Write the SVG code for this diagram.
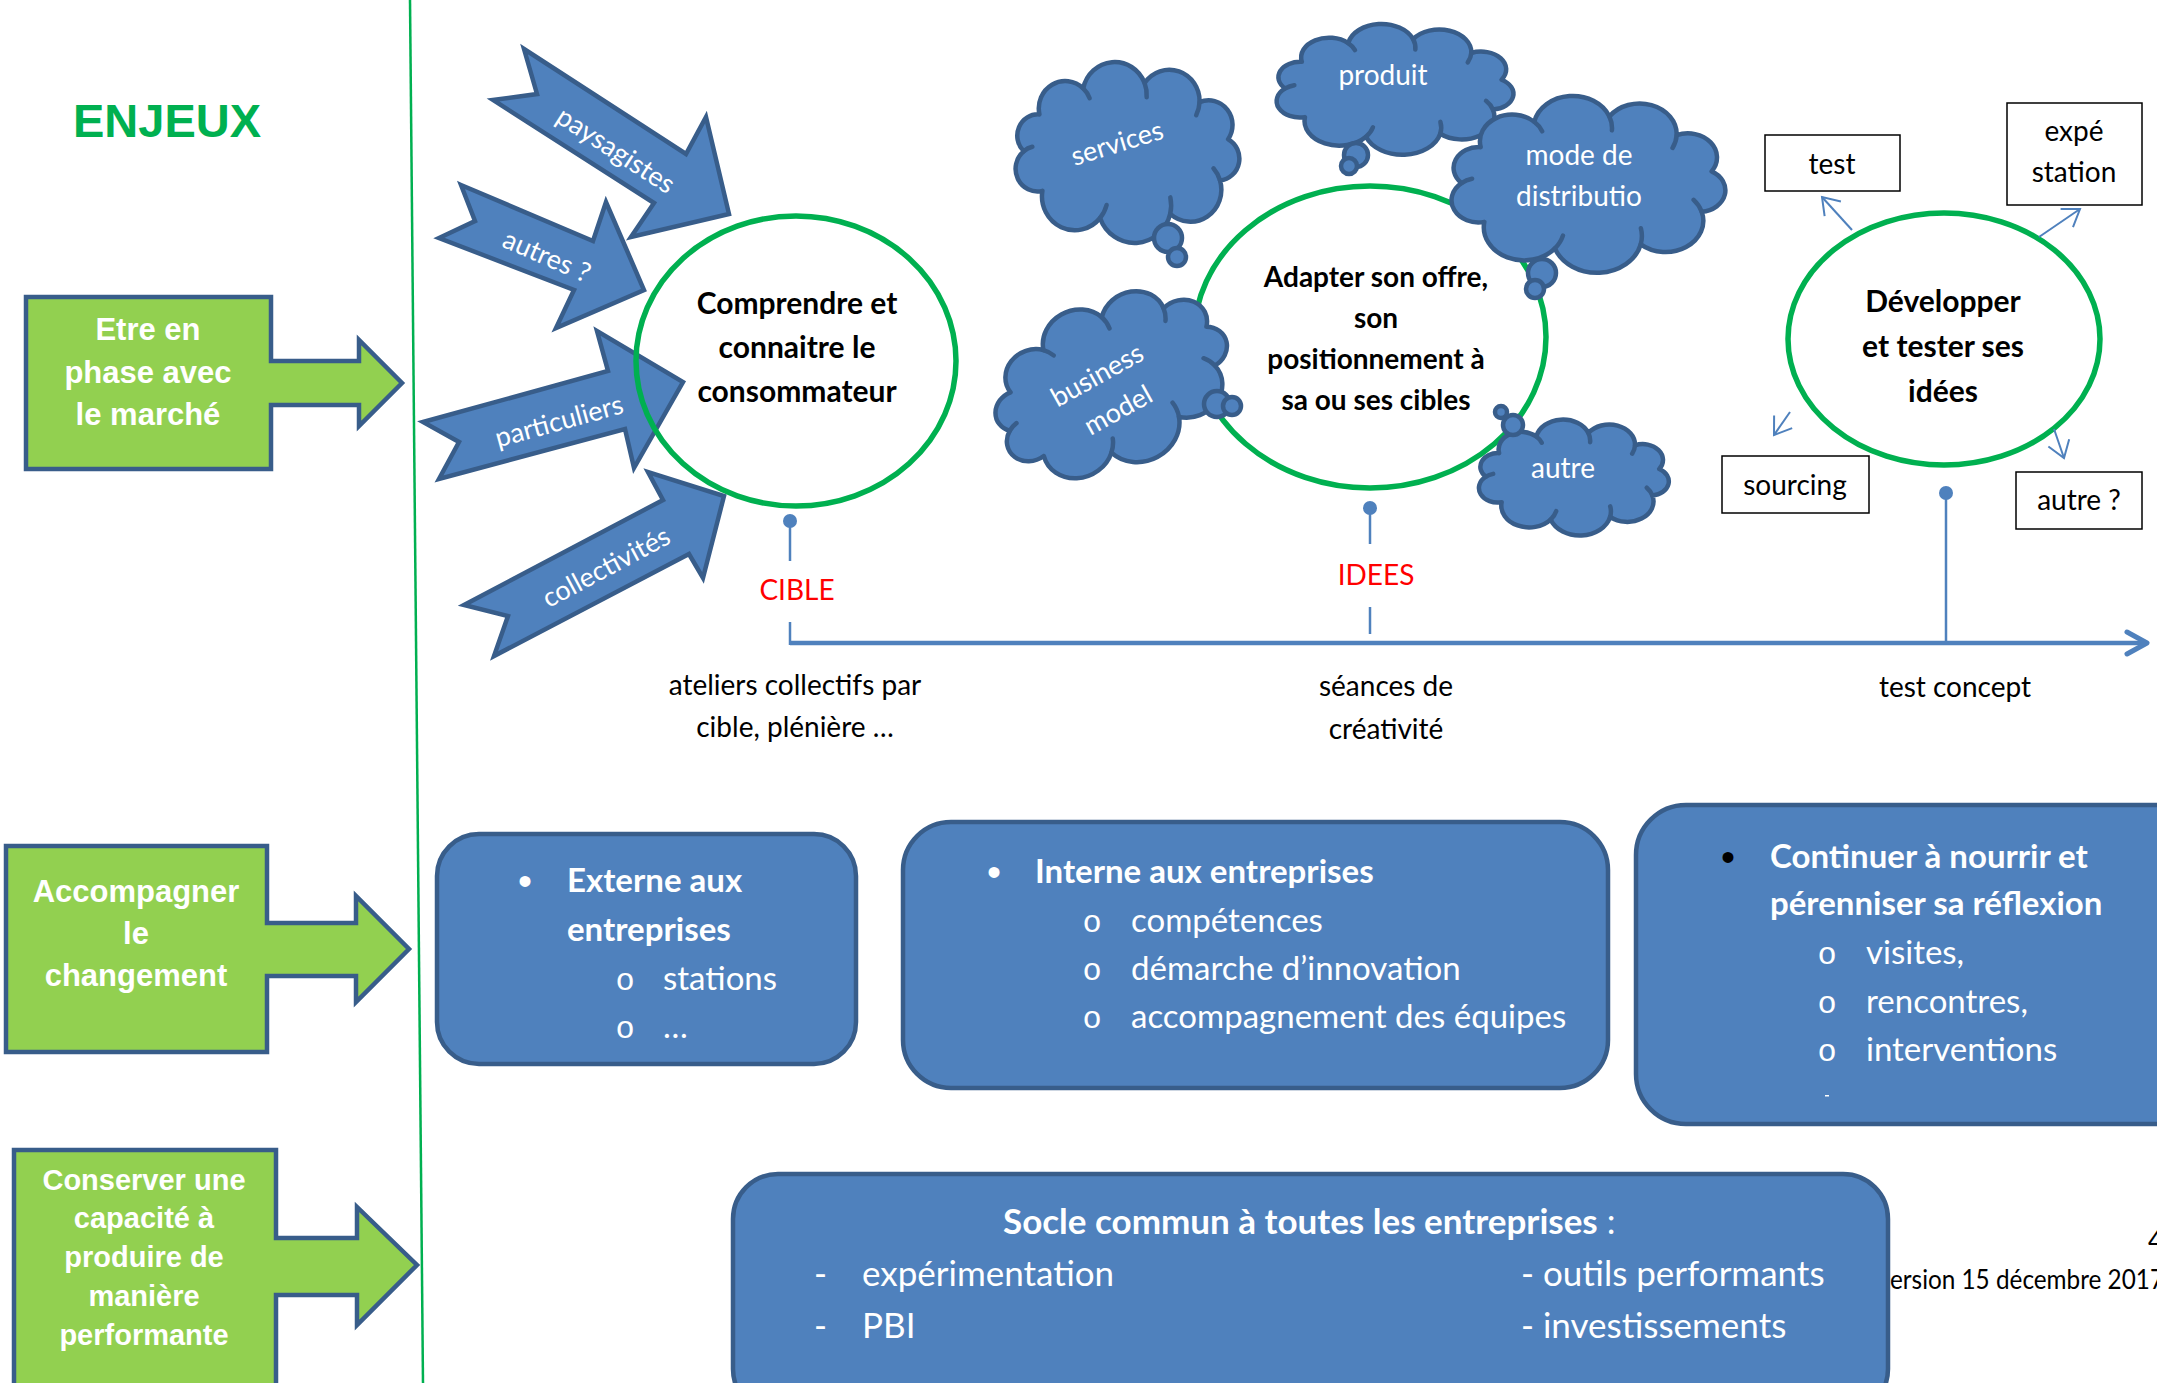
<svg xmlns="http://www.w3.org/2000/svg" xmlns:xlink="http://www.w3.org/1999/xlink" width="2157" height="1383" viewBox="0 0 2157 1383">
<style>
.lato{font-family:Lato,"Open Sans","Liberation Sans",sans-serif}
.arial{font-family:"Liberation Sans",Arial,sans-serif}
.mono{font-family:"Liberation Mono","Courier New",monospace}
.gbox{fill:#92D050;stroke:#385D8A;stroke-width:4.5;stroke-linejoin:miter}
.gtxt{font-family:"Liberation Sans",Arial,sans-serif;font-weight:bold;fill:#fff;text-anchor:middle}
.barrow{fill:#4F81BD;stroke:#385D8A;stroke-width:4.5;stroke-linejoin:miter}
.atxt{font-family:Lato,"Open Sans",sans-serif;fill:#fff;font-size:27px;text-anchor:middle}
.ring{fill:none;stroke:#00B050;stroke-width:5.5}
.ctxt{font-family:Lato,"Open Sans",sans-serif;font-weight:bold;fill:#000;text-anchor:middle}
.cloud{fill:#4F81BD;stroke:#385D8A;stroke-width:4.5;stroke-linejoin:round}
.cloudin{fill:none;stroke:#385D8A;stroke-width:4.5;stroke-linecap:round}
.wtxt{font-family:Lato,"Open Sans",sans-serif;fill:#fff}
.btxt{font-family:Lato,"Open Sans",sans-serif;fill:#000}
.rbox{fill:#4F81BD;stroke:#385D8A;stroke-width:4.5}
.sbox{fill:#fff;stroke:#000;stroke-width:1.5}
.tl{stroke:#4F81BD;fill:none}
.red{font-family:Lato,"Open Sans",sans-serif;fill:#FF0000;font-size:28px;text-anchor:middle}
</style>
<defs>
<marker id="open" markerUnits="userSpaceOnUse" markerWidth="22" markerHeight="26" viewBox="-19 -13 21 26" refX="0" refY="0" orient="auto">
<path d="M-16,-11 L0,0 L-16,11" fill="none" stroke="#4F81BD" stroke-width="2"/>
</marker>
<g id="cloudShape">
<path class="cloud" vector-effect="non-scaling-stroke" d="M20,70 A16,16 0 0 1 32.2,42.4 A20.5,20.5 0 0 1 66.2,22.9 A25,25 0 0 1 113.9,18.8 A23.5,23.5 0 0 1 156.6,33.2 A18.5,18.5 0 0 1 178.8,61 A16.5,16.5 0 0 1 172.5,92 A24,24 0 0 1 133.8,117.1 A28.5,28.5 0 0 1 79.3,120.2 A25.5,25.5 0 0 1 34.5,99.8 A17,17 0 0 1 20,70 Z"/>
<path class="cloudin" vector-effect="non-scaling-stroke" d="M66.2,22.9 A20.5,20.5 0 0 1 71.2,30.2 M113.9,18.8 A25,25 0 0 1 115.5,29.5 M156.6,33.2 A23.5,23.5 0 0 1 154,43 M167.4,82.9 A24,24 0 0 1 172.5,92 M133.9,104.7 A28.5,28.5 0 0 1 133.8,117.1 M84.4,110.4 A25.5,25.5 0 0 1 79.3,120.2 M20,70 A17,17 0 0 1 26.7,66.7"/>
</g>
</defs>

<rect width="2157" height="1383" fill="#fff"/>

<!-- separator -->
<line x1="410" y1="0" x2="423" y2="1383" stroke="#00B050" stroke-width="2.5"/>

<g id="enjeux">
<text x="73" y="137" class="arial" font-weight="bold" font-size="47" fill="#00B050">ENJEUX</text>
</g>

<g id="enjeu1">
<polygon class="gbox" points="26,297 271,297 271,361 359,361 359,340 402,383 359,426 359,405 271,405 271,469 26,469"/>
<text class="gtxt" font-size="31"><tspan x="148" y="340">Etre en</tspan><tspan x="148" y="383">phase avec</tspan><tspan x="148" y="425">le marché</tspan></text>
</g>

<g id="enjeu2">
<polygon class="gbox" points="6,846 267,846 267,923 356,923 356,896 409,949 356,1002 356,976 267,976 267,1052 6,1052"/>
<text class="gtxt" font-size="31"><tspan x="136" y="902">Accompagner</tspan><tspan x="136" y="944">le</tspan><tspan x="136" y="986">changement</tspan></text>
</g>

<g id="enjeu3">
<polygon class="gbox" points="14,1150 276,1150 276,1238 357,1238 357,1207 417,1265 357,1325 357,1295 276,1295 276,1395 14,1395"/>
<text class="gtxt" font-size="29"><tspan x="144" y="1190">Conserver une</tspan><tspan x="144" y="1228">capacité à</tspan><tspan x="144" y="1267">produire de</tspan><tspan x="144" y="1306">manière</tspan><tspan x="144" y="1345">performante</tspan></text>
</g>

<!-- source arrows -->
<g id="arrow-paysagistes">
<polygon class="barrow" points="524,49 686,154 706,117 729,214 631,237 654,203 493,100 537,94"/>
<text class="atxt" transform="translate(616,150) rotate(33)" dy="0.35em">paysagistes</text>
</g>
<g id="arrow-autres">
<polygon class="barrow" points="461,185 593,241 606,202 644,290 556,328 574,290 439,238 475,221"/>
<text class="atxt" transform="translate(547,256) rotate(23.5)" dy="0.35em">autres ?</text>
</g>
<g id="arrow-particuliers">
<polygon class="barrow" points="423,422 608,371 597,331 683,382 634,468 625,429 439,479 459,442"/>
<text class="atxt" transform="translate(559,421) rotate(-15.4)" dy="0.35em">particuliers</text>
</g>
<g id="arrow-collectivites">
<polygon class="barrow" points="464,605 663,500 648,472 724,496 703,578 689,554 494,656 508,616"/>
<text class="atxt" transform="translate(606,567) rotate(-28)" dy="0.35em">collectivités</text>
</g>

<!-- circle 1 -->
<g id="cible">
<ellipse class="ring" cx="796" cy="361" rx="160" ry="145"/>
<text class="ctxt" font-size="30"><tspan x="797" y="314">Comprendre et</tspan><tspan x="797" y="358">connaitre le</tspan><tspan x="797" y="402">consommateur</tspan></text>
</g>

<!-- circle 2 -->
<g id="idees">
<ellipse class="ring" cx="1370" cy="337" rx="176" ry="151"/>
<text class="ctxt" font-size="28"><tspan x="1376" y="287">Adapter son offre,</tspan><tspan x="1376" y="328">son</tspan><tspan x="1376" y="369">positionnement à</tspan><tspan x="1376" y="410">sa ou ses cibles</tspan></text>
</g>

<!-- clouds -->
<g id="cloud-services">
<use xlink:href="#cloudShape" href="#cloudShape" transform="translate(998,58) scale(1.287,1.331)"/>
<circle class="cloud" cx="1168" cy="238" r="14"/>
<circle class="cloud" cx="1177" cy="257" r="9"/>
<text class="wtxt" font-size="27" text-anchor="middle" transform="translate(1117,143) rotate(-17)" dy="0.35em">services</text>
</g>
<g id="cloud-produit">
<use xlink:href="#cloudShape" href="#cloudShape" transform="translate(1258,21) scale(1.362,0.963)"/>
<circle class="cloud" cx="1356" cy="155" r="12"/>
<circle class="cloud" cx="1349" cy="166" r="8"/>
<text class="wtxt" font-size="28" text-anchor="middle" x="1383" y="85">produit</text>
</g>
<g id="cloud-distribution">
<use xlink:href="#cloudShape" href="#cloudShape" transform="translate(1430,92) scale(1.575,1.301)"/>
<circle class="cloud" cx="1542" cy="273" r="14"/>
<circle class="cloud" cx="1535" cy="289" r="9"/>
<text class="wtxt" font-size="28" text-anchor="middle"><tspan x="1579" y="165">mode de</tspan><tspan x="1579" y="206">distributio</tspan></text>
</g>
<g id="cloud-business">
<use xlink:href="#cloudShape" href="#cloudShape" transform="translate(1113,384) rotate(-25) scale(1.4,1.25) translate(-101,-71)"/>
<circle class="cloud" cx="1217" cy="404" r="13"/>
<circle class="cloud" cx="1232" cy="406" r="9"/>
<text class="wtxt" font-size="27" text-anchor="middle" transform="translate(1097,375) rotate(-29)" dy="0.35em">business</text>
<text class="wtxt" font-size="27" text-anchor="middle" transform="translate(1118,410) rotate(-29)" dy="0.35em">model</text>
</g>
<g id="cloud-autre">
<use xlink:href="#cloudShape" href="#cloudShape" transform="translate(1464,417) scale(1.092,0.853)"/>
<circle class="cloud" cx="1501" cy="412" r="6"/>
<circle class="cloud" cx="1513" cy="425" r="10"/>
<text class="wtxt" font-size="28" text-anchor="middle" x="1563" y="478">autre</text>
</g>

<!-- circle 3 -->
<g id="developper">
<ellipse class="ring" cx="1944" cy="339" rx="156" ry="126"/>
<text class="ctxt" font-size="30"><tspan x="1943" y="312">Développer</tspan><tspan x="1943" y="357">et tester ses</tspan><tspan x="1943" y="402">idées</tspan></text>
</g>

<g id="box-test">
<rect class="sbox" x="1765" y="135" width="135" height="56"/>
<text class="btxt" font-size="28" text-anchor="middle" x="1832" y="174">test</text>
</g>
<g id="box-expe">
<rect class="sbox" x="2007" y="103" width="135" height="102"/>
<text class="btxt" font-size="28" text-anchor="middle"><tspan x="2074" y="141">expé</tspan><tspan x="2074" y="182">station</tspan></text>
</g>
<g id="box-sourcing">
<rect class="sbox" x="1722" y="456" width="147" height="57"/>
<text class="btxt" font-size="28" text-anchor="middle" x="1795" y="495">sourcing</text>
</g>
<g id="box-autre">
<rect class="sbox" x="2016" y="472" width="126" height="57"/>
<text class="btxt" font-size="28" text-anchor="middle" x="2079" y="510">autre ?</text>
</g>

<!-- connectors -->
<g id="connectors">
<line class="tl" stroke-width="2" x1="1852" y1="230" x2="1822" y2="197" marker-end="url(#open)"/>
<line class="tl" stroke-width="2" x1="2039" y1="237" x2="2080" y2="209" marker-end="url(#open)"/>
<line class="tl" stroke-width="2" x1="1790" y1="412" x2="1774" y2="435" marker-end="url(#open)"/>
<line class="tl" stroke-width="2" x1="2054" y1="429" x2="2064" y2="458" marker-end="url(#open)"/>
<!-- timeline -->
<line class="tl" stroke-width="4.5" x1="790" y1="643" x2="2144" y2="643"/>
<polyline class="tl" stroke-width="5" stroke-linecap="round" stroke-linejoin="round" points="2127,632 2147,643 2127,654"/>
<line class="tl" stroke-width="2.5" x1="790" y1="622" x2="790" y2="645"/>
<circle cx="790" cy="521" r="7" fill="#4F81BD"/>
<line class="tl" stroke-width="2.5" x1="790" y1="521" x2="790" y2="561"/>
<circle cx="1370" cy="508" r="7" fill="#4F81BD"/>
<line class="tl" stroke-width="2.5" x1="1370" y1="508" x2="1370" y2="544"/>
<line class="tl" stroke-width="2.5" x1="1370" y1="607" x2="1370" y2="634"/>
<circle cx="1946" cy="493" r="7" fill="#4F81BD"/>
<line class="tl" stroke-width="2.5" x1="1946" y1="493" x2="1946" y2="643"/>
</g>

<g id="timeline-labels">
<text class="red" x="797" y="600">CIBLE</text>
<text class="red" x="1376" y="585">IDEES</text>
<text class="btxt" font-size="28" text-anchor="middle"><tspan x="795" y="695">ateliers collectifs par</tspan><tspan x="795" y="737">cible, plénière …</tspan></text>
<text class="btxt" font-size="28" text-anchor="middle"><tspan x="1386" y="696">séances de</tspan><tspan x="1386" y="739">créativité</tspan></text>
<text class="btxt" font-size="28" text-anchor="middle" x="1955" y="697">test concept</text>
</g>

<!-- accompagnement boxes -->
<g id="box-externe">
<rect class="rbox" x="437" y="834" width="419" height="230" rx="42"/>
<text class="arial" font-size="40" fill="#fff" text-anchor="middle" x="525" y="895">•</text>
<text class="wtxt" font-size="33" font-weight="bold"><tspan x="567" y="892">Externe aux</tspan><tspan x="567" y="941">entreprises</tspan></text>
<text class="mono" font-size="32" fill="#fff" text-anchor="middle"><tspan x="625" y="990">o</tspan><tspan x="625" y="1038">o</tspan></text>
<text class="wtxt" font-size="33"><tspan x="663" y="990">stations</tspan><tspan x="663" y="1038">…</tspan></text>
</g>

<g id="box-interne">
<rect class="rbox" x="903" y="822" width="705" height="266" rx="48"/>
<text class="arial" font-size="40" fill="#fff" text-anchor="middle" x="994" y="886">•</text>
<text class="wtxt" font-size="33" font-weight="bold" x="1035" y="883">Interne aux entreprises</text>
<text class="mono" font-size="32" fill="#fff" text-anchor="middle"><tspan x="1092" y="932">o</tspan><tspan x="1092" y="980">o</tspan><tspan x="1092" y="1028">o</tspan></text>
<text class="wtxt" font-size="33"><tspan x="1131" y="932">compétences</tspan><tspan x="1131" y="980">démarche d’innovation</tspan><tspan x="1131" y="1028">accompagnement des équipes</tspan></text>
</g>

<g id="box-continuer">
<rect class="rbox" x="1636" y="805" width="580" height="319" rx="50"/>
<text class="arial" font-size="40" fill="#000" text-anchor="middle" x="1728" y="871">•</text>
<text class="wtxt" font-size="33" font-weight="bold"><tspan x="1770" y="868">Continuer à nourrir et</tspan><tspan x="1770" y="915">pérenniser sa réflexion</tspan></text>
<text class="mono" font-size="32" fill="#fff" text-anchor="middle"><tspan x="1827" y="964">o</tspan><tspan x="1827" y="1013">o</tspan><tspan x="1827" y="1061">o</tspan></text>
<text class="wtxt" font-size="33"><tspan x="1866" y="964">visites,</tspan><tspan x="1866" y="1013">rencontres,</tspan><tspan x="1866" y="1061">interventions</tspan></text>
<rect x="1825" y="1095" width="4" height="1.5" fill="#fff"/>
</g>

<g id="box-socle">
<rect class="rbox" x="733" y="1174" width="1155" height="240" rx="45"/>
<text class="wtxt" font-size="35" x="1003" y="1234"><tspan font-weight="bold">Socle commun à toutes les entreprises</tspan> :</text>
<text class="wtxt" font-size="35"><tspan x="814" y="1286">-</tspan><tspan x="862" y="1286">expérimentation</tspan><tspan x="814" y="1338">-</tspan><tspan x="862" y="1338">PBI</tspan></text>
<text class="wtxt" font-size="35"><tspan x="1521" y="1286">- outils performants</tspan><tspan x="1521" y="1338">- investissements</tspan></text>
</g>

<g id="footer">
<text class="btxt" font-size="26" x="2148" y="1250">4</text>
<text class="btxt" font-size="26" x="1890" y="1289" textLength="274" lengthAdjust="spacingAndGlyphs">ersion 15 décembre 2017</text>
</g>
</svg>
